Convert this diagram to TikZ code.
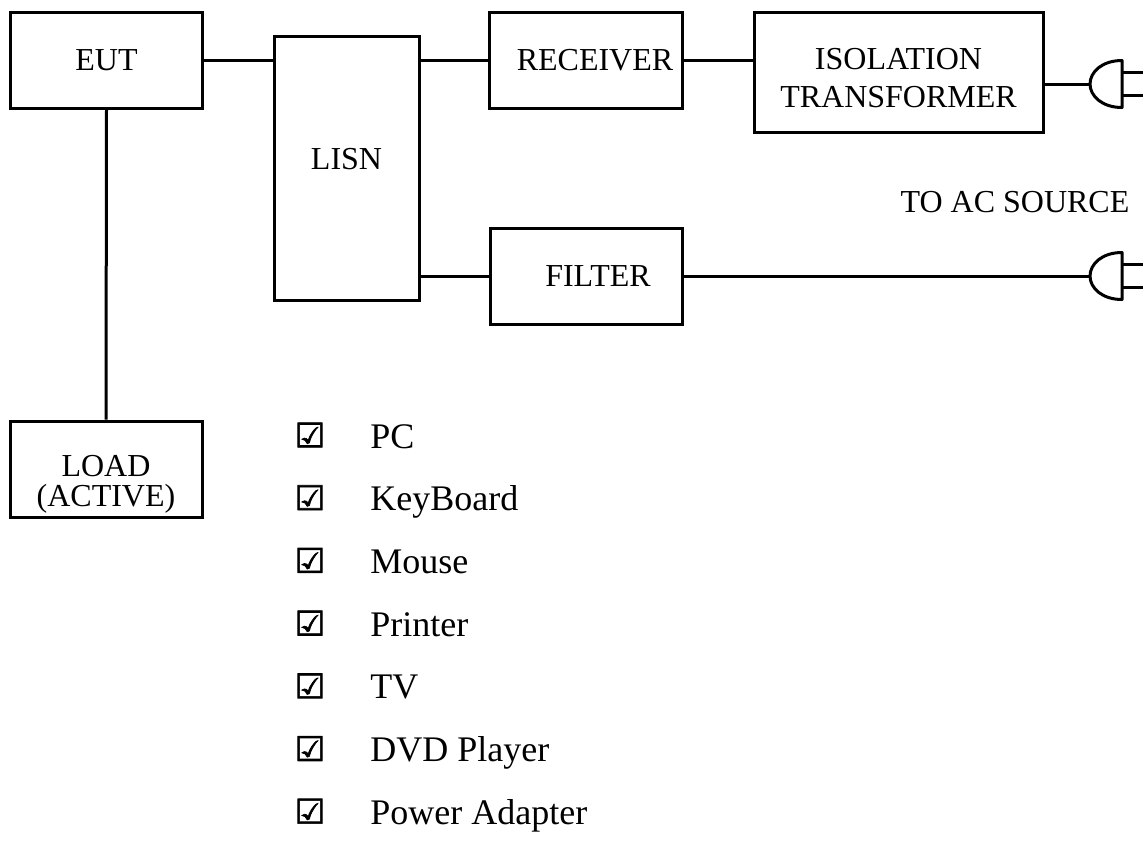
\documentclass[tikz,border=0pt]{standalone}
\usepackage{fontspec}
\setmainfont{Liberation Serif}
\newfontfamily\symfont[FakeBold=2]{DejaVu Sans}
\tikzset{
  unitbox/.style={draw, line width=1.5pt, inner sep=0pt, align=center,
    font=\fontsize{16}{19}\selectfont},
  wire/.style={line width=1.5pt},
  itemtext/.style={anchor=base west, inner sep=0pt, font=\fontsize{18}{22}\selectfont},
  tickbox/.style={inner sep=0pt, font=\symfont\fontsize{17}{20}\selectfont},
  plug/.pic={
    \draw[wire, line join=round] (32,-23.5) .. controls (12,-23.5) and (0,-12) .. (0,0)
      .. controls (0,12) and (12,23.5) .. (32,23.5) -- cycle;
    \draw[wire] (32,-12) -- (53,-12);
    \draw[wire] (32,11.5) -- (53,11.5);
  }
}
\begin{document}
\begin{tikzpicture}[x=0.5pt, y=-0.5pt]
\useasboundingbox (0,0) rectangle (1143,841);
% blocks
\node[unitbox, minimum width=96pt, minimum height=48pt] (eut) at (106.5,60) {EUT};
\node[unitbox, minimum width=72.5pt, minimum height=132pt] (lisn) at (346.5,168)
  {\raisebox{4.5pt}[\height][\depth]{LISN}};
\node[unitbox, minimum width=96.5pt, minimum height=48pt] (rx) at (586,60) {\hspace*{9pt}RECEIVER};
\node[unitbox, minimum width=144.5pt, minimum height=60pt] (iso) at (898.5,72)
  {\raisebox{-4.5pt}[\height][\depth]{\begin{tabular}{@{}c@{}}ISOLATION\\TRANSFORMER\end{tabular}}};
\node[unitbox, minimum width=96pt, minimum height=48pt] (filt) at (586,276) {\hspace*{12pt}FILTER};
\node[unitbox, minimum width=96pt, minimum height=48pt] (load) at (106,469)
  {\raisebox{-7.5pt}[\height][\depth]{\begin{tabular}{@{}c@{}}LOAD\\[-4pt](ACTIVE)\end{tabular}}};
\node[font=\fontsize{16}{19}\selectfont] (src) at (1015,202) {TO AC SOURCE};
% plugs
\coordinate (plugA) at (1090,84);
\coordinate (plugB) at (1090,276);
\pic at (plugA) {plug};
\pic at (plugB) {plug};
% wiring
\draw[wire] (eut.east) -- (eut.east -| lisn.west);
\draw[wire] (eut.south) -- (load.north);
\draw[wire] (lisn.east |- rx.west) -- (rx.west);
\draw[wire] (lisn.east |- filt.west) -- (filt.west);
\draw[wire] (rx.east) -- (rx.east -| iso.west);
\draw[wire] (plugA -| iso.east) -- (plugA);
\draw[wire] (filt.east) -- (plugB);
% equipment list
\foreach \lbl [count=\i from 0] in {PC, KeyBoard, Mouse, Printer, TV, DVD Player, Power Adapter} {
  \node[tickbox] (tick-\i) at (310,435+62.7*\i) {☑};
  \node[itemtext] (item-\i) at (370,448+62.7*\i) {\lbl};
}
\end{tikzpicture}
\end{document}
